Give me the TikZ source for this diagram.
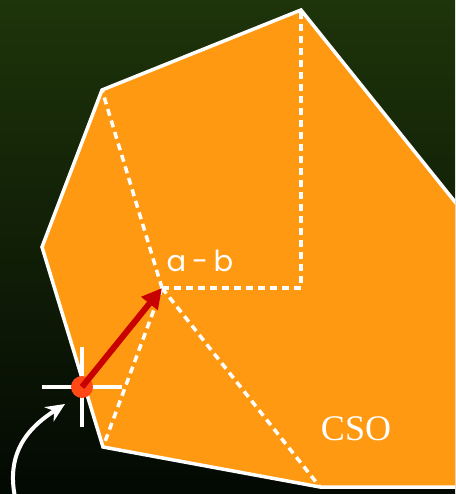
\documentclass[tikz,border=0pt]{standalone}
\usepackage{fontspec}
\setmainfont{Liberation Serif}
\newfontfamily\geofont{Poppins}
\usetikzlibrary{arrows.meta, positioning, calc}

\definecolor{csoorange}{RGB}{255,153,18}
\definecolor{penred}{RGB}{200,0,0}
\definecolor{dotred}{RGB}{255,72,22}
\definecolor{bgtop}{RGB}{30,52,10}
\definecolor{bgbot}{RGB}{3,9,3}

\begin{document}
\begin{tikzpicture}[
    x=1pt, y=-1pt,
    hull/.style    = {draw=white, line width=3.5pt, line join=miter},
    split/.style   = {white, line width=3.5pt, dash pattern=on 7pt off 5pt},
    cross/.style   = {white, line width=3.5pt},
    originpt/.style= {circle, fill=dotred, minimum size=22pt, inner sep=0pt},
    pen/.style     = {penred, line width=6pt,
                      -{Triangle[length=20pt, width=20pt]}},
    hint/.style    = {white, line width=4pt,
                      -{Stealth[length=19pt, width=17pt]}},
    lbl/.style     = {white, font=\geofont\fontsize{29}{32}\selectfont},
    csotext/.style = {white, font=\fontsize{36}{40}\selectfont}
]
  \useasboundingbox (0,0) rectangle (455,494);
  \shade[top color=bgtop, bottom color=bgbot] (0,0) rectangle (455,494);
  \clip (0,0) rectangle (455,494);

  % hull corners
  \coordinate (top)    at (301,10);
  \coordinate (ne)     at (480,233);
  \coordinate (se)     at (480,487);
  \coordinate (bot)    at (320,487);
  \coordinate (bl)     at (103,447);
  \coordinate (lft)    at (42,247);
  \coordinate (tl)     at (102,90);
  \coordinate (ab)     at (162,288);
  \coordinate (corner) at (301,288);

  \fill[csoorange] (top) -- (ne) -- (se) -- (bot) -- (bl) -- (lft) -- (tl) -- cycle;

  % triangulation
  \draw[split] (ab) -- (tl);
  \draw[split] (ab) -- (corner) -- (top);
  \draw[split] (ab) -- (bl);
  \draw[split] (ab) -- (bot);

  \draw[hull] (top) -- (ne) -- (se) -- (bot) -- (bl) -- (lft) -- (tl) -- cycle;

  \node[lbl]     (ablabel) at (200,261) {a\hspace{-2pt} - \hspace{-2pt}b};
  \node[csotext] (cso)     at (356,429) {CSO};

  % origin with crosshair
  \coordinate (origin0) at (82,387);
  \draw[cross] ($(origin0)+(-40,0)$) -- ($(origin0)+(40,0)$);
  \draw[cross] ($(origin0)+(0,-40)$) -- ($(origin0)+(0,40)$);
  \node[originpt] (origin) at (origin0) {};
  \draw[pen] (origin.center) -- (ab);

  \coordinate (tail) at (15,497);
  \coordinate (tip)  at (65,404);
  \draw[hint] (tail) .. controls (5,448) and (34,424) .. (tip);
\end{tikzpicture}
\end{document}
